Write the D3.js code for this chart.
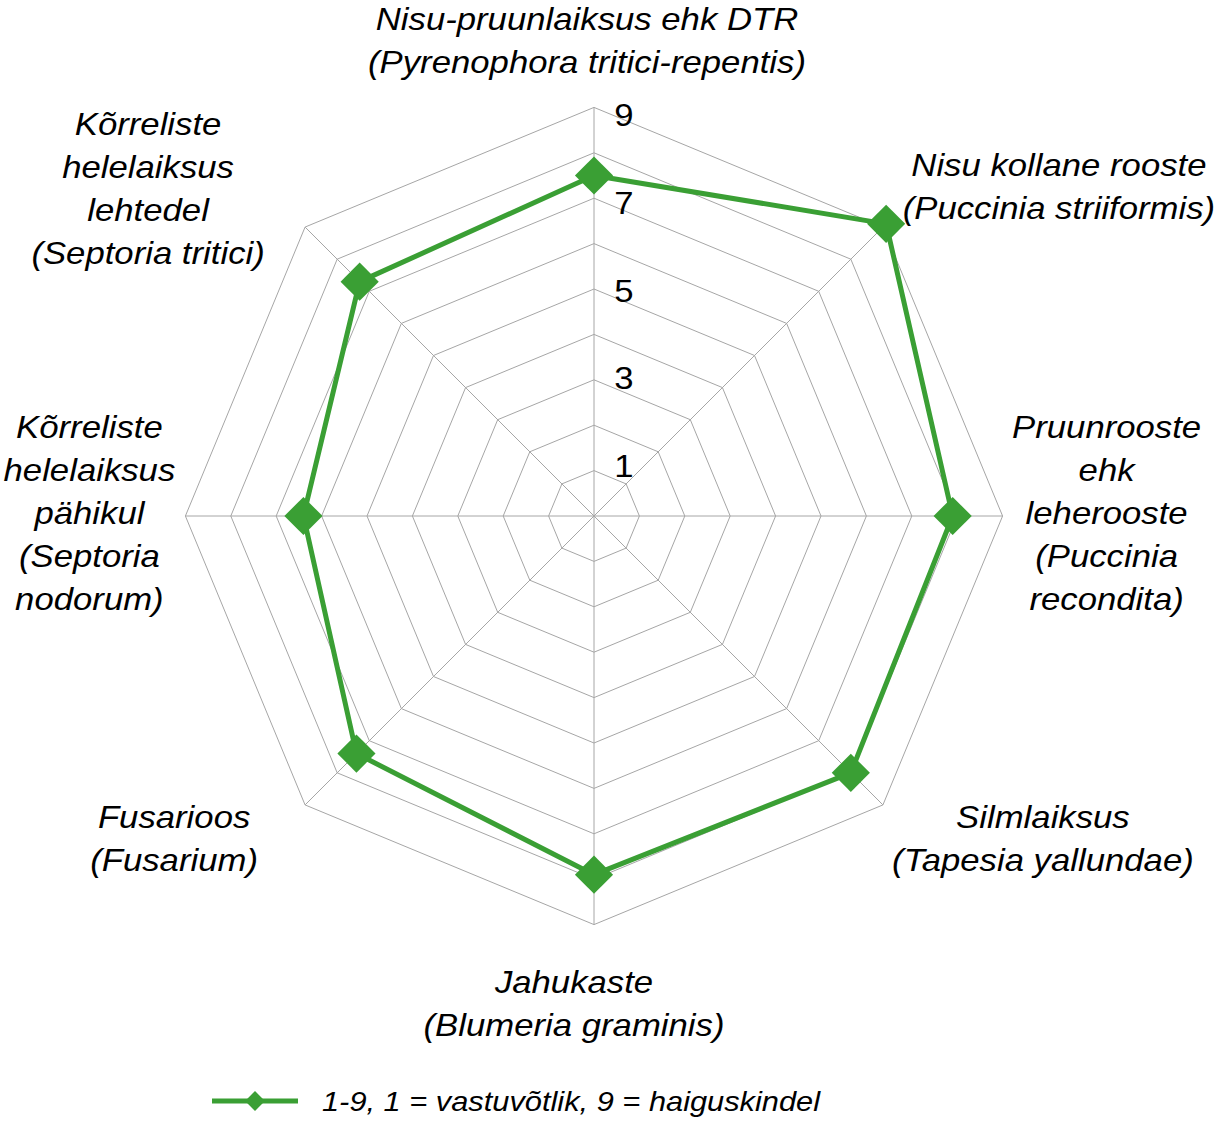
<!DOCTYPE html>
<html>
<head>
<meta charset="utf-8">
<script src="https://cdn.jsdelivr.net/npm/d3@7"></script>
<style>
  body { margin: 0; background: #fff; }
  text { font-family: "Liberation Sans", Arial, sans-serif; fill: #000; }
</style>
</head>
<body>
<svg id="chart" width="1216" height="1123"></svg>
<script>
// categories (each line of the label separately)
var categories = [
  ["Nisu-pruunlaiksus ehk DTR", "(Pyrenophora tritici-repentis)"],
  ["Nisu kollane rooste", "(Puccinia striiformis)"],
  ["Pruunrooste", "ehk", "leherooste", "(Puccinia", "recondita)"],
  ["Silmlaiksus", "(Tapesia yallundae)"],
  ["Jahukaste", "(Blumeria graminis)"],
  ["Fusarioos", "(Fusarium)"],
  ["Kõrreliste", "helelaiksus", "pähikul", "(Septoria", "nodorum)"],
  ["Kõrreliste", "helelaiksus", "lehtedel", "(Septoria tritici)"]
]
var values = [7.5, 9.1, 7.9, 8.0, 7.9, 7.4, 6.4, 7.3]
var ringValues = [1, 2, 3, 4, 5, 6, 7, 8, 9]
var tickLabels = [1, 3, 5, 7, 9]
var seriesName = "1-9, 1 = vastuvõtlik, 9 = haiguskindel"

var cx = 594, cy = 516, R = 408.6
var green = "#3a9f34"
var fontSize = 31, lineH = 43
var stretch = 1.12 // the original text is a bit wider than Arial

// label block offsets from the axis end, Excel puts them a bit unevenly
var labelShift = [[-7, -67], [176, -41], [104, -3], [160, 33], [-20, 79], [-131, 33], [-96, -3], [-157, -39]]

var svg = d3.select('#chart')
var g = svg.append('g').attr('transform', 'translate(' + cx + ',' + cy + ')')

var r = d3.scaleLinear().domain([0, 9]).range([0, R])
var angle = d3.scaleLinear().domain([0, categories.length]).range([0, 2 * Math.PI])

function pt(i, v) {
  var a = angle(i)
  return [Math.sin(a) * r(v), -Math.cos(a) * r(v)]
}

// rings
g.selectAll('polygon.ring')
  .data(ringValues)
  .enter()
  .append('polygon')
    .attr('class', 'ring')
    .attr('points', function(v) {
      return categories.map(function(c, i) { return pt(i, v).join(',') }).join(' ')
    })
    .attr('fill', 'none')
    .attr('stroke', '#a6a6a6')
    .attr('stroke-width', 1)

// spokes
g.selectAll('line.spoke')
  .data(categories)
  .enter()
  .append('line')
    .attr('x1', 0).attr('y1', 0)
    .attr('x2', function(d, i) { return pt(i, 9)[0] })
    .attr('y2', function(d, i) { return pt(i, 9)[1] })
    .attr('stroke', '#a6a6a6')
    .attr('stroke-width', 1)

// tick labels along the top axis
g.selectAll('text.tick')
  .data(tickLabels)
  .enter()
  .append('text')
    .attr('transform', function(v) { return 'translate(30,' + (-(r(v) * 0.967 + 6)) + ') scale(' + stretch + ',1)' })
    .attr('dy', '0.36em')
    .attr('text-anchor', 'middle')
    .style('font-size', fontSize + 'px')
    .text(function(v) { return v })

// series
var line = d3.lineRadial()
  .angle(function(d, i) { return angle(i) })
  .radius(function(d) { return r(d) })
  .curve(d3.curveLinearClosed)

g.append('path')
  .datum(values)
  .attr('d', line)
  .attr('fill', 'none')
  .attr('stroke', green)
  .attr('stroke-width', 5)
  .attr('stroke-linejoin', 'round')

var diamond = d3.symbol().type(d3.symbolSquare).size(27 * 27)
g.selectAll('path.marker')
  .data(values)
  .enter()
  .append('path')
    .attr('d', diamond)
    .attr('transform', function(d, i) { var p = pt(i, d); return 'translate(' + p[0] + ',' + p[1] + ') rotate(45)' })
    .attr('fill', green)

// category labels
categories.forEach(function(lines, i) {
  var end = pt(i, 9)
  var bx = end[0] + labelShift[i][0]
  var by = end[1] + labelShift[i][1]
  var t = g.append('text')
    .attr('transform', 'translate(' + bx + ',' + by + ') scale(' + stretch + ',1)')
    .attr('text-anchor', 'middle')
    .style('font-size', fontSize + 'px')
    .style('font-style', 'italic')
  lines.forEach(function(s, k) {
    t.append('tspan')
      .attr('x', 0)
      .attr('y', (k - (lines.length - 1) / 2) * lineH)
      .attr('dy', '0.36em')
      .text(s)
  })
})

// legend
var lg = svg.append('g').attr('transform', 'translate(212,1101)')
lg.append('line')
  .attr('x1', 0).attr('x2', 86)
  .attr('stroke', green).attr('stroke-width', 5)
lg.append('path')
  .attr('d', d3.symbol().type(d3.symbolSquare).size(14 * 14))
  .attr('transform', 'translate(43,0) rotate(45)')
  .attr('fill', green)
lg.append('text')
  .attr('transform', 'translate(110,0) scale(' + stretch + ',1)')
  .attr('dy', '0.36em')
  .style('font-size', '27.5px')
  .style('font-style', 'italic')
  .text(seriesName)
</script>
</body>
</html>
